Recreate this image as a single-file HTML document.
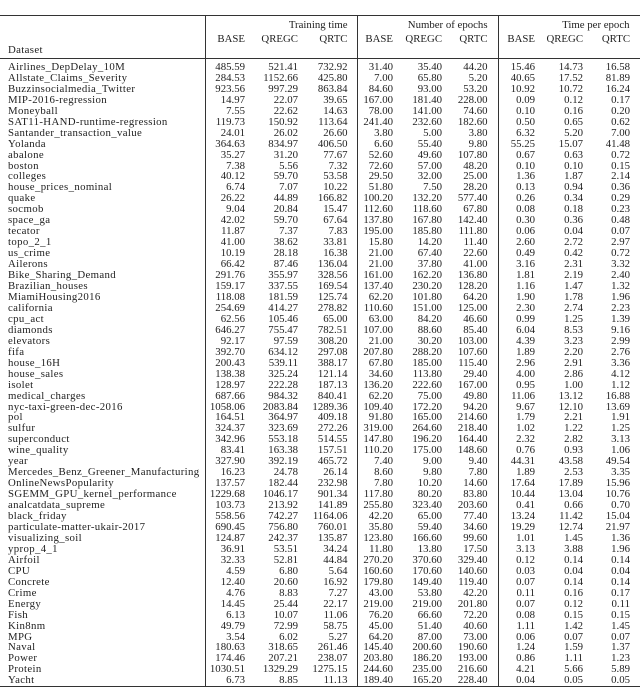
<!DOCTYPE html>
<html><head><meta charset="utf-8"><style>
body{margin:0;background:#fff;width:640px;height:687px;overflow:hidden;font-family:"Liberation Serif",serif;color:#222;}
table{position:absolute;left:0;top:15px;width:640px;border-collapse:collapse;table-layout:fixed;font-size:10.8px;border-top:1.5px solid #333;border-bottom:1.5px solid #333}
td{padding:0;white-space:nowrap;text-align:right;line-height:10.95px;height:10.95px;overflow:visible}
td:nth-child(1){text-align:left;padding-left:8px;border-right:1px solid #333;letter-spacing:0.35px}
td:nth-child(2),td:nth-child(3),td:nth-child(5),td:nth-child(6),td:nth-child(8),td:nth-child(9){padding-right:4px}
td:nth-child(4){padding-right:9px;border-right:1px solid #333}
td:nth-child(7){padding-right:10px;border-right:1px solid #333}
td:nth-child(10){padding-right:10px}
tr.h1 td{height:16px;line-height:18px}
tr.h3 td{height:13px;line-height:11px;vertical-align:top;border-bottom:1px solid #333}
tr.sp td{height:3px;line-height:3px}
</style></head><body>
<table>
<colgroup><col style="width:205px"><col style="width:44px"><col style="width:53px"><col style="width:55px"><col style="width:40px"><col style="width:49px"><col style="width:52px"><col style="width:41px"><col style="width:48px"><col style="width:53px"></colgroup>
<tr class="h1"><td></td><td colspan="3" style="padding-right:9px;border-right:1px solid #333">Training time</td><td colspan="3" style="padding-right:10px;border-right:1px solid #333">Number of epochs</td><td colspan="3" style="padding-right:10px">Time per epoch</td></tr>
<tr><td></td><td>BASE</td><td>QREGC</td><td>QRTC</td><td>BASE</td><td>QREGC</td><td>QRTC</td><td>BASE</td><td>QREGC</td><td>QRTC</td></tr>
<tr class="h3"><td>Dataset</td><td></td><td></td><td></td><td></td><td></td><td></td><td></td><td></td><td></td></tr>
<tr class="sp"><td></td><td></td><td></td><td></td><td></td><td></td><td></td><td></td><td></td><td></td></tr>
<tr><td>Airlines_DepDelay_10M</td><td>485.59</td><td>521.41</td><td>732.92</td><td>31.40</td><td>35.40</td><td>44.20</td><td>15.46</td><td>14.73</td><td>16.58</td></tr>
<tr><td>Allstate_Claims_Severity</td><td>284.53</td><td>1152.66</td><td>425.80</td><td>7.00</td><td>65.80</td><td>5.20</td><td>40.65</td><td>17.52</td><td>81.89</td></tr>
<tr><td>Buzzinsocialmedia_Twitter</td><td>923.56</td><td>997.29</td><td>863.84</td><td>84.60</td><td>93.00</td><td>53.20</td><td>10.92</td><td>10.72</td><td>16.24</td></tr>
<tr><td>MIP-2016-regression</td><td>14.97</td><td>22.07</td><td>39.65</td><td>167.00</td><td>181.40</td><td>228.00</td><td>0.09</td><td>0.12</td><td>0.17</td></tr>
<tr><td>Moneyball</td><td>7.55</td><td>22.62</td><td>14.63</td><td>78.00</td><td>141.00</td><td>74.60</td><td>0.10</td><td>0.16</td><td>0.20</td></tr>
<tr><td>SAT11-HAND-runtime-regression</td><td>119.73</td><td>150.92</td><td>113.64</td><td>241.40</td><td>232.60</td><td>182.60</td><td>0.50</td><td>0.65</td><td>0.62</td></tr>
<tr><td>Santander_transaction_value</td><td>24.01</td><td>26.02</td><td>26.60</td><td>3.80</td><td>5.00</td><td>3.80</td><td>6.32</td><td>5.20</td><td>7.00</td></tr>
<tr><td>Yolanda</td><td>364.63</td><td>834.97</td><td>406.50</td><td>6.60</td><td>55.40</td><td>9.80</td><td>55.25</td><td>15.07</td><td>41.48</td></tr>
<tr><td>abalone</td><td>35.27</td><td>31.20</td><td>77.67</td><td>52.60</td><td>49.60</td><td>107.80</td><td>0.67</td><td>0.63</td><td>0.72</td></tr>
<tr><td>boston</td><td>7.38</td><td>5.56</td><td>7.32</td><td>72.60</td><td>57.00</td><td>48.20</td><td>0.10</td><td>0.10</td><td>0.15</td></tr>
<tr><td>colleges</td><td>40.12</td><td>59.70</td><td>53.58</td><td>29.50</td><td>32.00</td><td>25.00</td><td>1.36</td><td>1.87</td><td>2.14</td></tr>
<tr><td>house_prices_nominal</td><td>6.74</td><td>7.07</td><td>10.22</td><td>51.80</td><td>7.50</td><td>28.20</td><td>0.13</td><td>0.94</td><td>0.36</td></tr>
<tr><td>quake</td><td>26.22</td><td>44.89</td><td>166.82</td><td>100.20</td><td>132.20</td><td>577.40</td><td>0.26</td><td>0.34</td><td>0.29</td></tr>
<tr><td>socmob</td><td>9.04</td><td>20.84</td><td>15.47</td><td>112.60</td><td>118.60</td><td>67.80</td><td>0.08</td><td>0.18</td><td>0.23</td></tr>
<tr><td>space_ga</td><td>42.02</td><td>59.70</td><td>67.64</td><td>137.80</td><td>167.80</td><td>142.40</td><td>0.30</td><td>0.36</td><td>0.48</td></tr>
<tr><td>tecator</td><td>11.87</td><td>7.37</td><td>7.83</td><td>195.00</td><td>185.80</td><td>111.80</td><td>0.06</td><td>0.04</td><td>0.07</td></tr>
<tr><td>topo_2_1</td><td>41.00</td><td>38.62</td><td>33.81</td><td>15.80</td><td>14.20</td><td>11.40</td><td>2.60</td><td>2.72</td><td>2.97</td></tr>
<tr><td>us_crime</td><td>10.19</td><td>28.18</td><td>16.38</td><td>21.00</td><td>67.40</td><td>22.60</td><td>0.49</td><td>0.42</td><td>0.72</td></tr>
<tr><td>Ailerons</td><td>66.42</td><td>87.46</td><td>136.04</td><td>21.00</td><td>37.80</td><td>41.00</td><td>3.16</td><td>2.31</td><td>3.32</td></tr>
<tr><td>Bike_Sharing_Demand</td><td>291.76</td><td>355.97</td><td>328.56</td><td>161.00</td><td>162.20</td><td>136.80</td><td>1.81</td><td>2.19</td><td>2.40</td></tr>
<tr><td>Brazilian_houses</td><td>159.17</td><td>337.55</td><td>169.54</td><td>137.40</td><td>230.20</td><td>128.20</td><td>1.16</td><td>1.47</td><td>1.32</td></tr>
<tr><td>MiamiHousing2016</td><td>118.08</td><td>181.59</td><td>125.74</td><td>62.20</td><td>101.80</td><td>64.20</td><td>1.90</td><td>1.78</td><td>1.96</td></tr>
<tr><td>california</td><td>254.69</td><td>414.27</td><td>278.82</td><td>110.60</td><td>151.00</td><td>125.00</td><td>2.30</td><td>2.74</td><td>2.23</td></tr>
<tr><td>cpu_act</td><td>62.56</td><td>105.46</td><td>65.00</td><td>63.00</td><td>84.20</td><td>46.60</td><td>0.99</td><td>1.25</td><td>1.39</td></tr>
<tr><td>diamonds</td><td>646.27</td><td>755.47</td><td>782.51</td><td>107.00</td><td>88.60</td><td>85.40</td><td>6.04</td><td>8.53</td><td>9.16</td></tr>
<tr><td>elevators</td><td>92.17</td><td>97.59</td><td>308.20</td><td>21.00</td><td>30.20</td><td>103.00</td><td>4.39</td><td>3.23</td><td>2.99</td></tr>
<tr><td>fifa</td><td>392.70</td><td>634.12</td><td>297.08</td><td>207.80</td><td>288.20</td><td>107.60</td><td>1.89</td><td>2.20</td><td>2.76</td></tr>
<tr><td>house_16H</td><td>200.43</td><td>539.11</td><td>388.17</td><td>67.80</td><td>185.00</td><td>115.40</td><td>2.96</td><td>2.91</td><td>3.36</td></tr>
<tr><td>house_sales</td><td>138.38</td><td>325.24</td><td>121.14</td><td>34.60</td><td>113.80</td><td>29.40</td><td>4.00</td><td>2.86</td><td>4.12</td></tr>
<tr><td>isolet</td><td>128.97</td><td>222.28</td><td>187.13</td><td>136.20</td><td>222.60</td><td>167.00</td><td>0.95</td><td>1.00</td><td>1.12</td></tr>
<tr><td>medical_charges</td><td>687.66</td><td>984.32</td><td>840.41</td><td>62.20</td><td>75.00</td><td>49.80</td><td>11.06</td><td>13.12</td><td>16.88</td></tr>
<tr><td>nyc-taxi-green-dec-2016</td><td>1058.06</td><td>2083.84</td><td>1289.36</td><td>109.40</td><td>172.20</td><td>94.20</td><td>9.67</td><td>12.10</td><td>13.69</td></tr>
<tr><td>pol</td><td>164.51</td><td>364.97</td><td>409.18</td><td>91.80</td><td>165.00</td><td>214.60</td><td>1.79</td><td>2.21</td><td>1.91</td></tr>
<tr><td>sulfur</td><td>324.37</td><td>323.69</td><td>272.26</td><td>319.00</td><td>264.60</td><td>218.40</td><td>1.02</td><td>1.22</td><td>1.25</td></tr>
<tr><td>superconduct</td><td>342.96</td><td>553.18</td><td>514.55</td><td>147.80</td><td>196.20</td><td>164.40</td><td>2.32</td><td>2.82</td><td>3.13</td></tr>
<tr><td>wine_quality</td><td>83.41</td><td>163.38</td><td>157.51</td><td>110.20</td><td>175.00</td><td>148.60</td><td>0.76</td><td>0.93</td><td>1.06</td></tr>
<tr><td>year</td><td>327.90</td><td>392.19</td><td>465.72</td><td>7.40</td><td>9.00</td><td>9.40</td><td>44.31</td><td>43.58</td><td>49.54</td></tr>
<tr><td>Mercedes_Benz_Greener_Manufacturing</td><td>16.23</td><td>24.78</td><td>26.14</td><td>8.60</td><td>9.80</td><td>7.80</td><td>1.89</td><td>2.53</td><td>3.35</td></tr>
<tr><td>OnlineNewsPopularity</td><td>137.57</td><td>182.44</td><td>232.98</td><td>7.80</td><td>10.20</td><td>14.60</td><td>17.64</td><td>17.89</td><td>15.96</td></tr>
<tr><td>SGEMM_GPU_kernel_performance</td><td>1229.68</td><td>1046.17</td><td>901.34</td><td>117.80</td><td>80.20</td><td>83.80</td><td>10.44</td><td>13.04</td><td>10.76</td></tr>
<tr><td>analcatdata_supreme</td><td>103.73</td><td>213.92</td><td>141.89</td><td>255.80</td><td>323.40</td><td>203.60</td><td>0.41</td><td>0.66</td><td>0.70</td></tr>
<tr><td>black_friday</td><td>558.56</td><td>742.27</td><td>1164.06</td><td>42.20</td><td>65.00</td><td>77.40</td><td>13.24</td><td>11.42</td><td>15.04</td></tr>
<tr><td>particulate-matter-ukair-2017</td><td>690.45</td><td>756.80</td><td>760.01</td><td>35.80</td><td>59.40</td><td>34.60</td><td>19.29</td><td>12.74</td><td>21.97</td></tr>
<tr><td>visualizing_soil</td><td>124.87</td><td>242.37</td><td>135.87</td><td>123.80</td><td>166.60</td><td>99.60</td><td>1.01</td><td>1.45</td><td>1.36</td></tr>
<tr><td>yprop_4_1</td><td>36.91</td><td>53.51</td><td>34.24</td><td>11.80</td><td>13.80</td><td>17.50</td><td>3.13</td><td>3.88</td><td>1.96</td></tr>
<tr><td>Airfoil</td><td>32.33</td><td>52.81</td><td>44.84</td><td>270.20</td><td>370.60</td><td>329.40</td><td>0.12</td><td>0.14</td><td>0.14</td></tr>
<tr><td>CPU</td><td>4.59</td><td>6.80</td><td>5.64</td><td>160.60</td><td>170.60</td><td>140.60</td><td>0.03</td><td>0.04</td><td>0.04</td></tr>
<tr><td>Concrete</td><td>12.40</td><td>20.60</td><td>16.92</td><td>179.80</td><td>149.40</td><td>119.40</td><td>0.07</td><td>0.14</td><td>0.14</td></tr>
<tr><td>Crime</td><td>4.76</td><td>8.83</td><td>7.27</td><td>43.00</td><td>53.80</td><td>42.20</td><td>0.11</td><td>0.16</td><td>0.17</td></tr>
<tr><td>Energy</td><td>14.45</td><td>25.44</td><td>22.17</td><td>219.00</td><td>219.00</td><td>201.80</td><td>0.07</td><td>0.12</td><td>0.11</td></tr>
<tr><td>Fish</td><td>6.13</td><td>10.07</td><td>11.06</td><td>76.20</td><td>66.60</td><td>72.20</td><td>0.08</td><td>0.15</td><td>0.15</td></tr>
<tr><td>Kin8nm</td><td>49.79</td><td>72.99</td><td>58.75</td><td>45.00</td><td>51.40</td><td>40.60</td><td>1.11</td><td>1.42</td><td>1.45</td></tr>
<tr><td>MPG</td><td>3.54</td><td>6.02</td><td>5.27</td><td>64.20</td><td>87.00</td><td>73.00</td><td>0.06</td><td>0.07</td><td>0.07</td></tr>
<tr><td>Naval</td><td>180.63</td><td>318.65</td><td>261.46</td><td>145.40</td><td>200.60</td><td>190.60</td><td>1.24</td><td>1.59</td><td>1.37</td></tr>
<tr><td>Power</td><td>174.46</td><td>207.21</td><td>238.07</td><td>203.80</td><td>186.20</td><td>193.00</td><td>0.86</td><td>1.11</td><td>1.23</td></tr>
<tr><td>Protein</td><td>1030.51</td><td>1329.29</td><td>1275.15</td><td>244.60</td><td>235.00</td><td>216.60</td><td>4.21</td><td>5.66</td><td>5.89</td></tr>
<tr><td>Yacht</td><td>6.73</td><td>8.85</td><td>11.13</td><td>189.40</td><td>165.20</td><td>228.40</td><td>0.04</td><td>0.05</td><td>0.05</td></tr>
</table>
</body></html>
